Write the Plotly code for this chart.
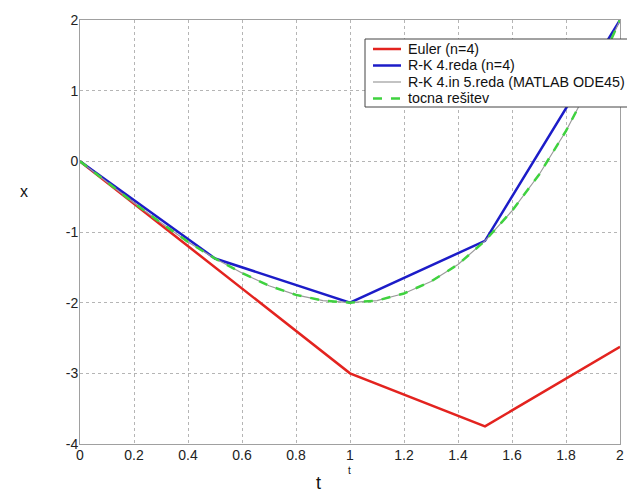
import plotly.graph_objects as go

# step points (h = 0.5)
t_steps = [0, 0.5, 1.0, 1.5, 2.0]
x_euler = [0, -1.5, -3.0, -3.75, -2.625]
x_rk4 = [0, -1.375, -2.0, -1.125, 2.0]

# dense points
t_fine = [0, 0.1, 0.2, 0.3, 0.4, 0.5, 0.6, 0.7, 0.8, 0.9, 1.0,
          1.1, 1.2, 1.3, 1.4, 1.5, 1.6, 1.7, 1.8, 1.9, 2.0]
x_ode45 = [0, -0.30, -0.59, -0.87, -1.14, -1.375, -1.58, -1.76, -1.89, -1.97, -2.0,
           -1.97, -1.87, -1.70, -1.46, -1.125, -0.70, -0.19, 0.43, 1.16, 2.0]
x_exact = [0, -0.30, -0.59, -0.87, -1.14, -1.375, -1.58, -1.76, -1.89, -1.97, -2.0,
           -1.97, -1.87, -1.70, -1.46, -1.125, -0.70, -0.19, 0.43, 1.16, 2.0]

names = ["Euler (n=4)", "R-K 4.reda (n=4)", "R-K 4.in 5.reda (MATLAB ODE45)", "tocna rešitev"]
colors = ["#e3231f", "#1c1cc8", "#9a9a9a", "#3fd23f"]
widths = [2.5, 2.5, 1.2, 2.5]
dashes = ["solid", "solid", "solid", "dash"]
x_ticks = [0, 0.2, 0.4, 0.6, 0.8, 1, 1.2, 1.4, 1.6, 1.8, 2]
x_ticklabels = ["0", "0.2", "0.4", "0.6", "0.8", "1", "1.2", "1.4", "1.6", "1.8", "2"]
y_ticks = [-4, -3, -2, -1, 0, 1, 2]
y_ticklabels = ["-4", "-3", "-2", "-1", "0", "1", "2"]

FONT = "Liberation Sans, Arial, sans-serif"

# plot area geometry (pixels)
W, H = 627, 502
L, R, T, B = 80, 7, 20, 58
PW, PH = W - L - R, H - T - B


def px(xpix):
    return (xpix - L) / PW


def py(ypix):
    return (H - B - ypix) / PH


fig = go.Figure()
series_x = [t_steps, t_steps, t_fine, t_fine]
series_y = [x_euler, x_rk4, x_ode45, x_exact]
for i in range(4):
    fig.add_trace(go.Scatter(x=series_x[i], y=series_y[i], mode="lines", name=names[i],
                             showlegend=False,
                             line=dict(color=colors[i], width=widths[i], dash=dashes[i])))

axis_common = dict(showline=True, mirror=True, linecolor="#a0a0a0", linewidth=1,
                   showgrid=True, gridcolor="#b5b5b5", griddash="dot", gridwidth=1,
                   zeroline=False, ticks="", ticklabeloverflow="allow",
                   tickfont=dict(family=FONT, size=14, color="#222"))

fig.update_layout(
    width=W, height=H,
    margin=dict(l=L, r=R, t=T, b=B, autoexpand=False),
    paper_bgcolor="white", plot_bgcolor="white",
    xaxis=dict(range=[0, 2], tickvals=x_ticks, ticktext=x_ticklabels,
               ticklabelstandoff=-2, **axis_common),
    yaxis=dict(range=[-4, 2], tickvals=y_ticks, ticktext=y_ticklabels,
               ticklabelstandoff=-2, **axis_common),
    showlegend=False,
)

# legend box (drawn like the MATLAB legend, running off the right edge)
fig.add_shape(type="rect", xref="paper", yref="paper", layer="above",
              x0=px(365), x1=px(680), y0=py(107), y1=py(39),
              line=dict(color="#444", width=1), fillcolor="white")
row_y = [49, 65.5, 82, 98.5]
for i in range(4):
    fig.add_shape(type="line", xref="paper", yref="paper", layer="above",
                  x0=px(373), x1=px(401), y0=py(row_y[i]), y1=py(row_y[i]),
                  line=dict(color=colors[i], width=widths[i], dash=dashes[i]))
    fig.add_annotation(text=names[i], xref="paper", yref="paper",
                       x=px(406), y=py(row_y[i]), xanchor="left", yanchor="middle",
                       showarrow=False, font=dict(family=FONT, size=14.3, color="#111"))

fig.add_annotation(text="x", xref="paper", yref="paper", x=px(18), y=py(191),
                   showarrow=False, font=dict(family=FONT, size=16, color="#111"))
fig.add_annotation(text="t", xref="paper", yref="paper", x=px(349), y=py(478),
                   showarrow=False, font=dict(family=FONT, size=10, color="#111"))
fig.add_annotation(text="t", xref="paper", yref="paper", x=px(318), y=py(495),
                   showarrow=False, font=dict(family=FONT, size=18, color="#111"))

fig.write_html("out.html", config={"displayModeBar": False},
               post_script="document.body.style.margin='0';")
